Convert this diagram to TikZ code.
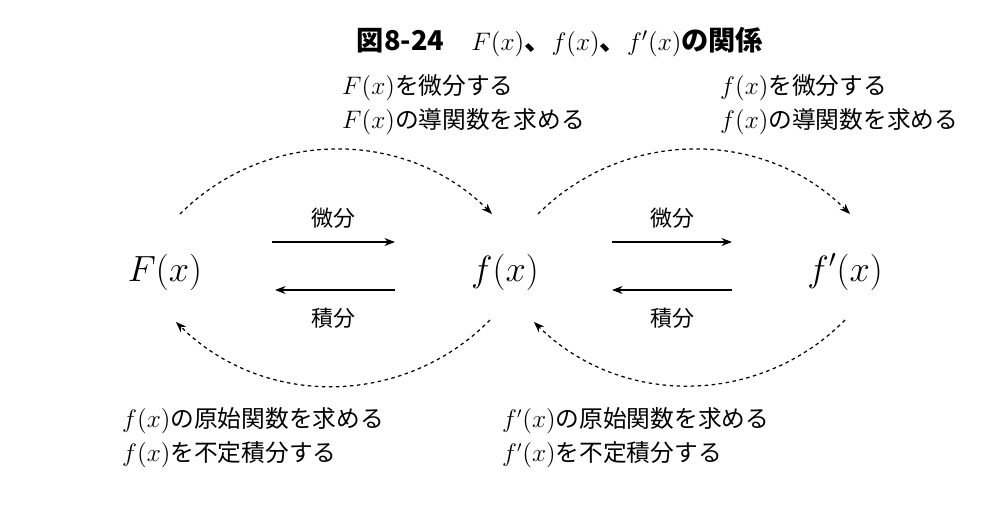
\documentclass[tikz,border=0pt]{standalone}
\usepackage{amsmath}
\usepackage{fontspec}
\newfontfamily\jp{Noto Sans CJK JP}
\usetikzlibrary{arrows.meta}
\tikzset{
  note/.style={anchor=west, font=\jp\fontsize{13.5}{19.5}\selectfont, align=left},
  func/.style={font=\fontsize{22}{24}\selectfont},
  op/.style={font=\jp\fontsize{12.5}{14}\selectfont},
  flow/.style={-{Stealth[length=6pt]}, line width=0.7pt},
  loop/.style={-{Stealth[length=6pt]}, dashed, line width=0.7pt, dash pattern=on 2pt off 2pt}
}
\begin{document}
\begin{tikzpicture}[x=0.02cm, y=-0.02cm]
        \useasboundingbox (0,0) rectangle (994,522);
        % title
        \node[font=\jp\bfseries\fontsize{15.5}{18}\selectfont] (title) at (560,42) {図8-24\quad $F(x)$、$f(x)$、$f'(x)$の関係};
        % functions
        \node[func] (Fx) at (165,272) {$F(x)$};
        \node[func] (fx) at (505,272) {$f(x)$};
        \node[func] (dfx) at (845,272) {$f'(x)$};
        % straight arrows
        \coordinate (a1) at (272,242); \coordinate (a2) at (395,242);
        \coordinate (a3) at (395,290); \coordinate (a4) at (275,290);
        \coordinate (b1) at (612,242); \coordinate (b2) at (732,242);
        \coordinate (b3) at (732,290); \coordinate (b4) at (612,290);
        \draw[flow] (a1) -- (a2);
        \draw[flow] (a3) -- (a4);
        \draw[flow] (b1) -- (b2);
        \draw[flow] (b3) -- (b4);
        \node[op] (d1) at (333,218) {微分};
        \node[op] (i1) at (333,318) {積分};
        \node[op] (d2) at (672,218) {微分};
        \node[op] (i2) at (672,318) {積分};
        % dashed arcs
        \coordinate (c1) at (180,214); \coordinate (c2) at (492,214);
        \coordinate (c3) at (538,214); \coordinate (c4) at (850,214);
        \coordinate (c5) at (490,320); \coordinate (c6) at (176,322);
        \coordinate (c7) at (845,320); \coordinate (c8) at (534,322);
        \draw[loop] (c1) to[bend left=45] (c2);
        \draw[loop] (c3) to[bend left=45] (c4);
        \draw[loop] (c5) to[bend left=45] (c6);
        \draw[loop] (c7) to[bend left=45] (c8);
        % notes
        \node[note] (n1) at (336,105) {$F(x)$を微分する\\$F(x)$の導関数を求める};
        \node[note] (n2) at (714,105) {$f(x)$を微分する\\$f(x)$の導関数を求める};
        \node[note] (n3) at (116,438) {$f(x)$の原始関数を求める\\$f(x)$を不定積分する};
        \node[note] (n4) at (496,438) {$f'(x)$の原始関数を求める\\$f'(x)$を不定積分する};
\end{tikzpicture}
\end{document}
